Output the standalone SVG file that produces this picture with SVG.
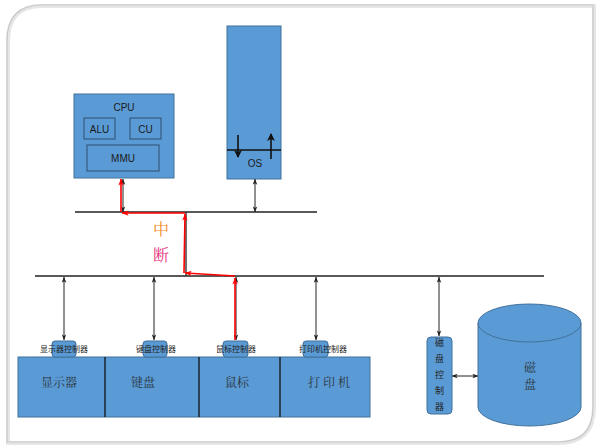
<svg xmlns="http://www.w3.org/2000/svg" width="604" height="448" viewBox="0 0 604 448">
<style>
.blue{fill:#5b9bd5;stroke:#41719c;stroke-width:1}
.inner{fill:#5b9bd5;stroke:#2e4f6e;stroke-width:1}
.bus{stroke:#222;stroke-width:1.3;fill:none}
.conn{stroke:#222;stroke-width:1;fill:none;marker-start:url(#ab);marker-end:url(#ab)}
.red{stroke:#ff0000;stroke-width:1.6;fill:none;marker-end:url(#ar)}
.lbl{font-family:"Liberation Sans","Noto Sans",sans-serif;font-size:10px;fill:#1a1a1a;text-anchor:middle}
.cjk{font-family:"Noto Sans CJK SC","Noto Sans CJK JP",sans-serif;fill:#222;text-anchor:middle}
.dev{font-family:"Noto Serif CJK SC","Noto Sans CJK SC",serif;font-size:12px;fill:#2a3440;text-anchor:middle}
</style>
<defs>
<marker id="ab" viewBox="0 0 8 6" refX="7.5" refY="3" markerWidth="6" markerHeight="5" orient="auto-start-reverse" markerUnits="userSpaceOnUse">
<path d="M0,0 L8,3 L0,6 L2,3 z" fill="#222"/>
</marker>
<marker id="ar" viewBox="0 0 8 6" refX="7.5" refY="3" markerWidth="7" markerHeight="6" orient="auto" markerUnits="userSpaceOnUse">
<path d="M0,0 L8,3 L0,6 L2,3 z" fill="#ff0000"/>
</marker>
<marker id="abig" viewBox="0 0 8 8" refX="7" refY="4" markerWidth="8" markerHeight="8" orient="auto" markerUnits="userSpaceOnUse">
<path d="M0,0 L8,4 L0,8 L2,4 z" fill="#111"/>
</marker>
</defs>
<rect width="604" height="448" fill="#ffffff"/>
<g id="frame">
<path d="M42,6 L594,6 L594,407 Q594,443 558,443 L8,443 L8,41 Q8,6 42,6 Z" fill="none" stroke="#e6e6e6" stroke-width="4"/>
<path d="M42,5 L593,5 L593,407 Q593,442 558,442 L7,442 L7,41 Q7,5 42,5 Z" fill="none" stroke="#c8c8c8" stroke-width="1.2"/>
</g>
<g id="cpu">
<rect class="blue" x="74" y="94" width="100" height="84"/>
<text class="lbl" x="124" y="111">CPU</text>
<rect class="inner" x="84" y="118" width="31" height="21"/>
<text class="lbl" x="99.5" y="133">ALU</text>
<rect class="inner" x="130" y="118" width="31" height="21"/>
<text class="lbl" x="145.5" y="133">CU</text>
<rect class="inner" x="87" y="145" width="72" height="26"/>
<text class="lbl" x="123" y="162">MMU</text>
</g>
<g id="os">
<rect class="blue" x="227" y="26" width="54" height="153"/>
<line x1="227" y1="150" x2="281" y2="150" stroke="#111" stroke-width="1.3"/>
<line x1="238" y1="135" x2="238" y2="157" stroke="#111" stroke-width="1.6" marker-end="url(#abig)"/>
<line x1="271" y1="159" x2="271" y2="134" stroke="#111" stroke-width="1.6" marker-end="url(#abig)"/>
<text class="lbl" x="255" y="167">OS</text>
</g>
<g id="connectors">
<line class="bus" x1="75" y1="212" x2="317" y2="212"/>
<line class="bus" x1="35" y1="276" x2="544" y2="276"/>
<line class="bus" x1="186" y1="212" x2="186" y2="276"/>
<line class="conn" x1="123" y1="179" x2="123" y2="212"/>
<line class="conn" x1="255" y1="179" x2="255" y2="212"/>
<line class="conn" x1="64" y1="277" x2="64" y2="340"/>
<line class="conn" x1="154" y1="277" x2="154" y2="340"/>
<line class="conn" x1="236" y1="277" x2="236" y2="340"/>
<line class="conn" x1="316" y1="277" x2="316" y2="340"/>
<line class="conn" x1="439" y1="277" x2="439" y2="336"/>
<line class="conn" x1="452" y1="376" x2="478" y2="376"/>
<line class="red" x1="235" y1="340" x2="235" y2="278"/>
<line class="red" x1="235" y1="276" x2="185" y2="273"/>
<line class="red" x1="184" y1="273" x2="185" y2="214"/>
<line class="red" x1="185" y1="213" x2="122" y2="213"/>
<line class="red" x1="121" y1="212" x2="121" y2="179"/>
</g>
<g id="interrupt">
<text x="161" y="235" font-family="Noto Serif CJK SC,Noto Sans CJK SC,serif" font-size="16" fill="#f08a24" text-anchor="middle">中</text>
<text x="161" y="261" font-family="Noto Serif CJK SC,Noto Sans CJK SC,serif" font-size="16" fill="#e8327a" text-anchor="middle">断</text>
</g>
<g id="devices">
<rect class="blue" x="18" y="357" width="352" height="60"/>
<line x1="105" y1="357" x2="105" y2="417" stroke="#111" stroke-width="1.3"/>
<line x1="199" y1="357" x2="199" y2="417" stroke="#111" stroke-width="1.3"/>
<line x1="280" y1="357" x2="280" y2="417" stroke="#111" stroke-width="1.3"/>
<text class="dev" x="59" y="387">显示器</text>
<text class="dev" x="143" y="387">键盘</text>
<text class="dev" x="237" y="387">鼠标</text>
<text class="dev" x="329" y="387">打 印 机</text>
</g>
<g id="ctrl-display">
<rect class="blue" x="52" y="341" width="24" height="16" rx="3"/>
<text class="cjk" x="64" y="352" font-size="8">显示器控制器</text>
</g>
<g id="ctrl-keyboard">
<rect class="blue" x="143" y="341" width="24" height="16" rx="3"/>
<text class="cjk" x="156" y="352" font-size="8">键盘控制器</text>
</g>
<g id="ctrl-mouse">
<rect class="blue" x="223" y="341" width="25" height="16" rx="3"/>
<text class="cjk" x="236" y="352" font-size="8">鼠标控制器</text>
</g>
<g id="ctrl-printer">
<rect class="blue" x="303" y="341" width="25" height="16" rx="3"/>
<text class="cjk" x="323" y="352" font-size="8">打印机控制器</text>
</g>
<g id="ctrl-disk">
<rect class="blue" x="427" y="337" width="25" height="77" rx="4"/>
<text class="cjk" x="439.5" y="346" font-size="9">磁</text>
<text class="cjk" x="439.5" y="362" font-size="9">盘</text>
<text class="cjk" x="439.5" y="378" font-size="9">控</text>
<text class="cjk" x="439.5" y="394" font-size="9">制</text>
<text class="cjk" x="439.5" y="410" font-size="9">器</text>
</g>
<g id="disk">
<path class="blue" d="M478,323 L478,407 A51.5,19 0 0 0 581,407 L581,323"/>
<ellipse class="blue" cx="529.5" cy="323" rx="51.5" ry="19"/>
<text class="dev" x="530" y="372" font-size="13">磁</text>
<text class="dev" x="530" y="389" font-size="13">盘</text>
</g>
</svg>
